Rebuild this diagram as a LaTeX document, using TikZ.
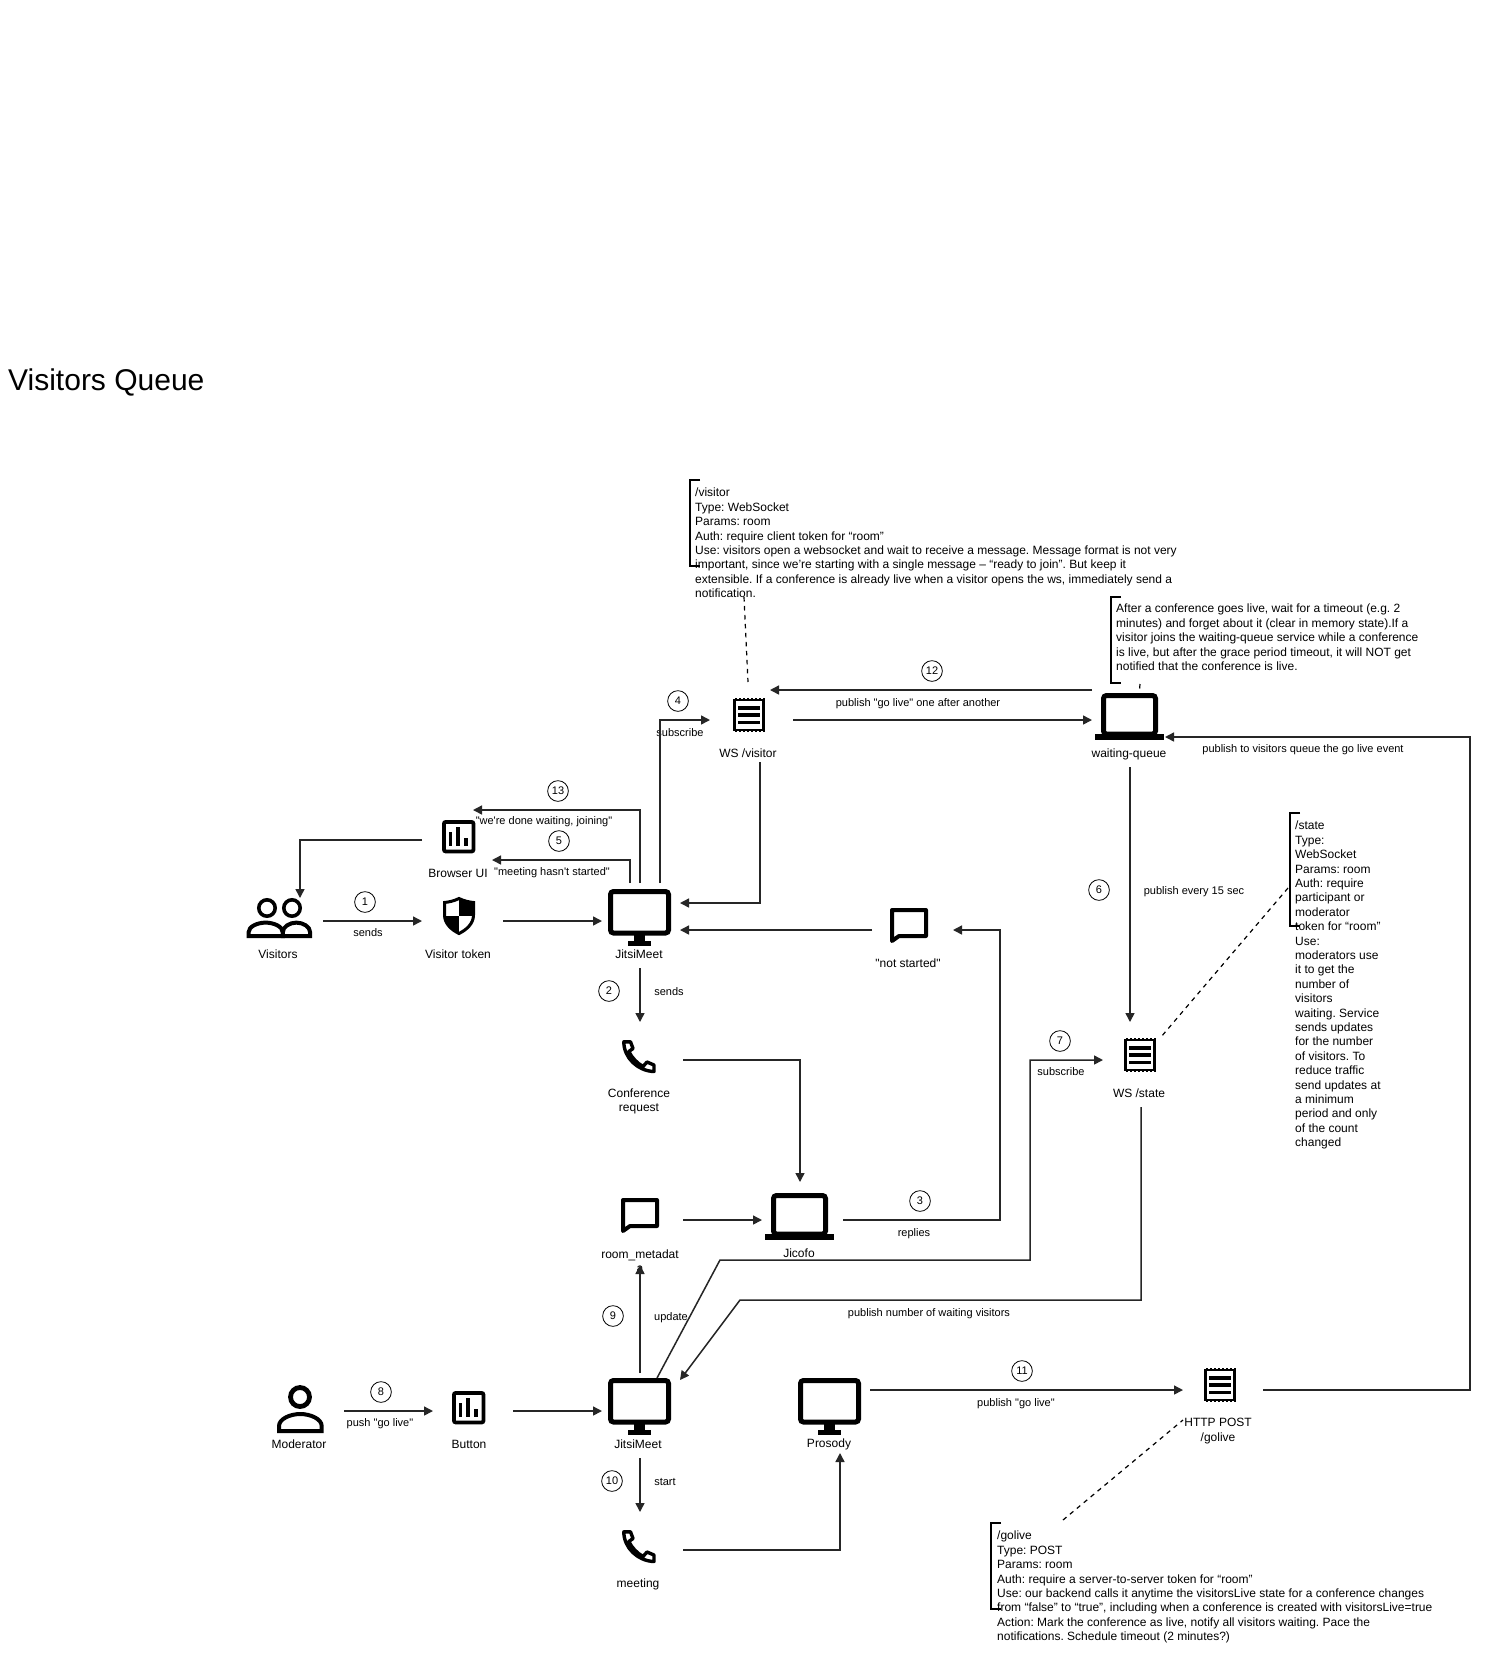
\documentclass[tikz,border=0pt]{standalone}
\usepackage{fontspec}
\newfontfamily\arialfont{Liberation Sans}
\usetikzlibrary{arrows.meta}

\tikzset{
  slot/.style={inner sep=0,outer sep=0},
  lbl/.style={font=\arialfont\fontsize{12}{14.4}\selectfont,inner sep=0,align=center,text height=8.6,text depth=0},
  lbltwo/.style={font=\arialfont\fontsize{12}{14.4}\selectfont,inner sep=0,align=center},
  edgelbl/.style={font=\arialfont\fontsize{11}{13.2}\selectfont,inner sep=0,text height=9.9,text depth=0},
  stepnum/.style={draw,circle,line width=0.8,minimum size=20.7,inner sep=0,font=\arialfont\fontsize{11}{13.2}\selectfont},
  note/.style={font=\arialfont\fontsize{12}{14.4}\selectfont,inner sep=0,align=left,anchor=north west},
  link/.style={line width=1.5,black!85,-{Triangle[length=9,width=9]}},
  leader/.style={line width=1.2,dash pattern=on 4.5 off 4.5},
  bracket/.style={line width=1.7},
  monitor/.pic={
    \draw[line width=5,rounded corners=3] (2.5,2.5) rectangle (60.5,44);
    \fill (26,46) rectangle (37,52);
    \fill (20,51.5) rectangle (43,57);
  },
  laptop/.pic={
    \draw[line width=5,rounded corners=3] (8.5,2.5) rectangle (60.5,41);
    \fill (0,40.5) rectangle (69,46.5);
  },
  receipt/.pic={
    \fill (0,0) rectangle (32,34);
    \fill[white] (2.6,2.6) rectangle (29.4,31.4);
    \fill (5,8) rectangle (27,11.5);
    \fill (5,15.3) rectangle (27,18.8);
    \fill (5,22.6) rectangle (27,26.1);
    \draw[white,line width=1.2,dash pattern=on 1.6 off 2.4] (0,0.2) -- (32,0.2) (0,33.8) -- (32,33.8);
  },
  chart/.pic={
    \draw[line width=3.8,rounded corners=2] (1.9,1.9) rectangle (31.5,31.5);
    \fill (7,11.7) rectangle (10.4,26);
    \fill (14.4,7.3) rectangle (18.2,26);
    \fill (22,18.3) rectangle (26,26);
  },
  bubble/.pic={
    \draw[line width=4,line join=round] (2,33) -- (2,2) -- (36,2) -- (36,28) -- (9,28) -- cycle;
  },
  phone/.pic={
    \draw[line width=3.4,line join=round] (1.8,1.8) -- (8.5,1.8) -- (11,8.5) -- (6.8,11.5)
      .. controls (10,18) and (15,23) .. (21,26.5) -- (25,22) -- (32,25) -- (32,31.5)
      .. controls (16,31) and (1.8,18) .. (1.8,1.8) -- cycle;
  },
  person/.pic={
    \draw[line width=4] (2,19) -- (2,14) .. controls (2,7) and (13,2) .. (23.3,2)
      .. controls (33.5,2) and (44.7,7) .. (44.7,14) -- (44.7,19) -- cycle;
  },
  tokenshield/.pic={
    \draw[line width=3,fill=white] (16,1.5) .. controls (21,4) and (26,5) .. (30.5,5.5) -- (30.5,18)
      .. controls (30.5,27) and (23,33) .. (16,36.5) .. controls (9,33) and (1.5,27) .. (1.5,18)
      -- (1.5,5.5) .. controls (6,5) and (11,4) .. (16,1.5) -- cycle;
    \begin{scope}
      \clip (16,1.5) .. controls (21,4) and (26,5) .. (30.5,5.5) -- (30.5,18)
      .. controls (30.5,27) and (23,33) .. (16,36.5) .. controls (9,33) and (1.5,27) .. (1.5,18)
      -- (1.5,5.5) .. controls (6,5) and (11,4) .. (16,1.5) -- cycle;
      \fill (16,0) rectangle (32,19);
      \fill (0,19) rectangle (16,38);
    \end{scope}
  }
}

\begin{document}
\frenchspacing
\begin{tikzpicture}[x=1pt,y=-1pt]
  \useasboundingbox[fill=white] (0,0) rectangle (1489,1658);

  \node[font=\arialfont\fontsize{30}{36}\selectfont,inner sep=0,anchor=base west] (title) at (8,390) {Visitors Queue};

  % connector slots around the icons
  \node[slot,minimum width=90,minimum height=46] (visitors) at (278,921) {};
  \node[slot,minimum width=81,minimum height=40] (token) at (462.5,921) {};
  \node[slot,minimum width=70,minimum height=60] (browserui) at (457,840) {};
  \node[slot,minimum width=78,minimum height=85] (jitsitop) at (641,925.5) {};
  \node[slot,minimum width=83,minimum height=84] (wsvisitor) at (751.5,720) {};
  \node[slot,minimum width=76,minimum height=94] (waiting) at (1130,720) {};
  \node[slot,minimum width=74,minimum height=85] (wsstate) at (1140,1064.5) {};
  \node[slot,minimum width=86,minimum height=76] (confreq) at (640,1060) {};
  \node[slot,minimum width=81,minimum height=76] (jicofo) at (802.5,1220) {};
  \node[slot,minimum width=81,minimum height=60] (notstarted) at (912.5,930) {};
  \node[slot,minimum width=86,minimum height=90] (roommeta) at (640,1220) {};
  \node[slot,minimum width=78,minimum height=85] (jitsibot) at (641,1415.5) {};
  \node[slot,minimum width=90,minimum height=46] (moderator) at (299,1411) {};
  \node[slot,minimum width=80,minimum height=40] (button) at (473,1411) {};
  \node[slot,minimum width=86,minimum height=76] (meeting) at (640,1550) {};
  \node[slot,minimum width=80,minimum height=126] (prosody) at (830,1390) {};
  \node[slot,minimum width=80,minimum height=60] (httppost) at (1223,1390) {};

  % icons
  \foreach \x/\y in {608/889,608/1378,798/1378}
    \pic at (\x,\y) {monitor};
  \foreach \x/\y in {1095/693,765/1193}
    \pic at (\x,\y) {laptop};
  \foreach \x/\y in {733/698,1124/1038,1204/1368}
    \pic at (\x,\y) {receipt};
  \foreach \x/\y in {442/820,452/1391}
    \pic at (\x,\y) {chart};
  \foreach \x/\y in {890/908,621/1198}
    \pic at (\x,\y) {bubble};
  \foreach \x/\y in {622/1040,622/1530}
    \pic at (\x,\y) {phone};
  \pic at (443,897) {tokenshield};
  \pic at (277,1412) {person};
  \draw[line width=4.8] (300,1397) circle[radius=9.5pt];
  \pic[xscale=0.8,yscale=0.8] at (247,921) {person};
  \pic[xscale=0.64,yscale=0.8] at (281.5,921) {person};
  \foreach \x in {267,292}
    \draw[line width=3.6] (\x,908) circle[radius=8.2pt];

  % icon labels
  \node[lbl] (lvisitors) at (278,954) {Visitors};
  \node[lbl] (ltoken) at (458,954) {Visitor token};
  \node[lbl] (lbrowser) at (458,873) {Browser UI};
  \node[lbl] (ljitsitop) at (639,954) {JitsiMeet};
  \node[lbl] (lwsvisitor) at (748,753) {WS /visitor};
  \node[lbl] (lwaiting) at (1129,753) {waiting-queue};
  \node[lbl] (lwsstate) at (1139,1093) {WS /state};
  \node[lbltwo] (lconf) at (639,1101.5) {Conference\\request};
  \node[lbl] (lnotstarted) at (908,963) {"not started"};
  \node[lbl] (ljicofo) at (799,1253) {Jicofo};
  \node[lbltwo] (lroom) at (640,1261) {room\_metadat\\a};
  \node[lbl] (lmoderator) at (299,1444) {Moderator};
  \node[lbl] (lbutton) at (469,1444) {Button};
  \node[lbl] (ljitsibot) at (638,1444) {JitsiMeet};
  \node[lbl] (lmeeting) at (638,1583) {meeting};
  \node[lbl] (lprosody) at (829,1443) {Prosody};
  \node[lbltwo] (lhttp) at (1218,1431) {HTTP POST\\/golive};

  % step numbers
  \foreach \n/\x/\y in {1/365/902,2/609/991,3/920/1201,4/678/701,5/559/841,6/1099/890,7/1060/1041,
      8/381/1392,9/613/1316,10/612/1481,11/1022/1371,12/932/671,13/558/791}
    \node[stepnum] (step\n) at (\x,\y) {\n};

  % edge labels
  \node[edgelbl] (esends) at (368,932) {sends};
  \node[edgelbl] (esendsb) at (669,991) {sends};
  \node[edgelbl] (ejoining) at (544,820) {"we're done waiting, joining"};
  \node[edgelbl] (ehasnt) at (552,871) {"meeting hasn't started"};
  \node[edgelbl] (esubv) at (680,732) {subscribe};
  \node[edgelbl] (egolive) at (918,702) {publish "go live" one after another};
  \node[edgelbl] (equeue) at (1303,748) {publish to visitors queue the go live event};
  \node[edgelbl] (eevery) at (1194,890) {publish every 15 sec};
  \node[edgelbl] (esubs) at (1061,1071) {subscribe};
  \node[edgelbl] (ereplies) at (914,1232) {replies};
  \node[edgelbl] (eupdate) at (671,1316) {update};
  \node[edgelbl] (enumber) at (929,1312) {publish number of waiting visitors};
  \node[edgelbl] (epush) at (380,1422) {push "go live"};
  \node[edgelbl] (estart) at (665,1481) {start};
  \node[edgelbl] (epublish) at (1016,1402) {publish "go live"};

  % notes with their brackets
  \node[note] (visitornote) at (695,488) {/visitor\\Type: WebSocket\\Params: room\\Auth: require client token for “room”\\
    Use: visitors open a websocket and wait to receive a message. Message format is not very\\
    important, since we’re starting with a single message – “ready to join”. But keep it\\
    extensible. If a conference is already live when a visitor opens the ws, immediately send a\\
    notification.};
  \draw[bracket] (700,480) -| (690,566) -- (700,566);
  \node[note] (waitnote) at (1116,604) {After a conference goes live, wait for a timeout (e.g. 2\\
    minutes) and forget about it (clear in memory state).If a\\
    visitor joins the waiting-queue service while a conference\\
    is live, but after the grace period timeout, it will NOT get\\
    notified that the conference is live.};
  \draw[bracket] (1121,597) -| (1111,683) -- (1121,683);
  \node[note] (statenote) at (1295,821) {/state\\Type:\\WebSocket\\Params: room\\Auth: require\\participant or\\moderator\\token for “room”\\
    Use:\\moderators use\\it to get the\\number of\\visitors\\waiting. Service\\sends updates\\for the number\\of visitors. To\\
    reduce traffic\\send updates at\\a minimum\\period and only\\of the count\\changed};
  \draw[bracket] (1300,813) -| (1290,926) -- (1300,926);
  \node[note] (golivenote) at (997,1531) {/golive\\Type: POST\\Params: room\\Auth: require a server-to-server token for “room”\\
    Use: our backend calls it anytime the visitorsLive state for a conference changes\\
    from “false” to “true”, including when a conference is created with visitorsLive=true\\
    Action: Mark the conference as live, notify all visitors waiting. Pace the\\
    notifications. Schedule timeout (2 minutes?)};
  \draw[bracket] (1001,1523) -| (991,1609) -- (1001,1609);

  % dashed leaders
  \coordinate (visitorfoot) at (744,597);
  \coordinate (waitfoot) at (1140,684);
  \coordinate (statefoot) at (1288,888);
  \coordinate (golivetop) at (1063,1520);
  \draw[leader] (visitorfoot) -- ([shift={(-3.5,4)}]wsvisitor.north);
  \draw[leader] (waitfoot) -- ([shift={(9.5,17)}]waiting.north);
  \draw[leader] (statefoot) -- ([shift={(21,15)}]wsstate.north);
  \draw[leader] (golivetop) -- (httppost.south west);

  % bend points
  \coordinate (subbend) at (720,1260);
  \coordinate (subcorner) at (1030,1060);
  \coordinate (pubbend) at (740,1300);
  \coordinate (railtop) at (1470,737);
  \coordinate (wsdown) at (760,903);
  \coordinate (repliesrail) at (1000,1220);

  % connectors
  \draw[link] (visitors.east) -- (token.west);
  \draw[link] (token.east) -- (token.east -| jitsitop.west);
  \draw[link] (browserui.west) -| ([xshift=22]visitors.north);
  \draw[link] ([xshift=-1]jitsitop.north) |- ([xshift=16]browserui.north);
  \draw[link] ([xshift=-11]jitsitop.north) |- ([yshift=-20]browserui.east);
  \draw[link] ([xshift=19]jitsitop.north) |- (wsvisitor.west);
  \draw[link] ([xshift=8.5]wsvisitor.south) -- (wsdown) -- (wsdown -| jitsitop.east);
  \draw[link] ([xshift=-1]jitsitop.south) -- (confreq.north);
  \draw[link] (confreq.east) -| ([xshift=-2.5]jicofo.north);
  \draw[link] (jicofo.east) -- (repliesrail) |- (notstarted.east);
  \draw[link] (notstarted.west) -- (notstarted.west -| jitsitop.east);
  \draw[link] (wsvisitor.east) -- (wsvisitor.east -| waiting.west);
  \draw[link] ([yshift=30]waiting.west) -- ([shift={(-23,-30)}]wsvisitor.east);
  \draw[link] (waiting.south) -- ([xshift=-10]wsstate.north);
  \draw[link] (roommeta.east) -- (roommeta.east -| jicofo.west);
  \draw[link] ([xshift=-1]jitsibot.north) -- (roommeta.south);
  \draw[link] ([shift={(16,5)}]jitsibot.north) -- (subbend) -| (subcorner) -- (subcorner -| wsstate.west);
  \draw[link] ([xshift=1]wsstate.south) |- (pubbend) -- ([shift={(39,7)}]jitsibot.north);
  \draw[link] (moderator.east) -- (button.west);
  \draw[link] (button.east) -- (button.east -| jitsibot.west);
  \draw[link] ([xshift=-1]jitsibot.south) -- (meeting.north);
  \draw[link] (meeting.east) -| ([xshift=10]prosody.south);
  \draw[link] (prosody.east) -- (httppost.west);
  \draw[link] (httppost.east) -| (railtop) -- ([shift={(-3,17)}]waiting.east);
\end{tikzpicture}
\end{document}
